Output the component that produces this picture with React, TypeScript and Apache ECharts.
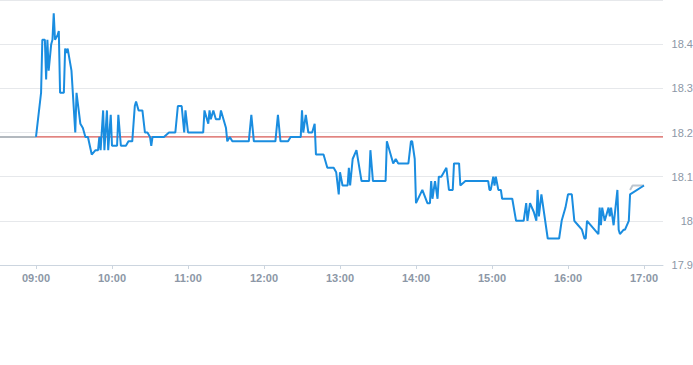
import React, { useEffect, useRef } from "react";
import * as echarts from "echarts";

const times = [
  "09:00","09:04","09:05","09:07","09:08","09:09","09:10","09:12","09:13","09:14","09:15","09:17","09:18","09:19","09:22","09:23","09:24","09:25","09:28","09:31","09:32","09:35","09:37","09:39","09:41","09:44","09:47","09:49","09:50","09:51","09:53","09:54","09:56","09:57","09:59",
  "10:00","10:04","10:05","10:07","10:11","10:13","10:16","10:18","10:19","10:21","10:24","10:26","10:28","10:30","10:31","10:32","10:41","10:45","10:50","10:52","10:55","10:57","10:58",
  "11:00","11:12","11:13","11:16","11:17","11:18","11:20","11:22","11:25","11:26","11:30","11:31","11:33","11:35","11:48","11:50","11:52",
  "12:09","12:11","12:13","12:19","12:21","12:29","12:30","12:31","12:33","12:35","12:38","12:40","12:41","12:47","12:50","12:55","12:57","12:59",
  "13:00","13:02","13:06","13:07","13:08","13:10","13:13","13:17","13:23","13:24","13:26","13:36","13:37","13:41","13:42","13:44","13:46","13:54","13:56","13:57","13:59",
  "14:00","14:05","14:09","14:11","14:12","14:13","14:15","14:17","14:18","14:20","14:24","14:26","14:29","14:30","14:34","14:35","14:39","14:57","14:58","14:59",
  "15:01","15:02","15:03","15:05","15:07","15:08","15:16","15:19","15:25","15:27","15:28","15:30","15:33","15:35","15:36","15:37","15:39","15:44","15:53","15:55","15:58",
  "16:00","16:03","16:05","16:08","16:11","16:13","16:14","16:15","16:24","16:25","16:26","16:27","16:29","16:32","16:33","16:34","16:36","16:39","16:40","16:41","16:44","16:45","16:48","16:49",
  "17:00",
];

const prices = [
  18.19,18.29,18.41,18.41,18.32,18.41,18.34,18.40,18.41,18.47,18.41,18.42,18.43,18.29,18.29,18.39,18.38,18.39,18.34,18.20,18.29,18.22,18.21,18.19,18.19,18.15,18.16,18.16,18.19,18.16,18.25,18.16,18.25,18.16,18.24,
  18.17,18.17,18.24,18.17,18.17,18.18,18.18,18.26,18.27,18.25,18.25,18.20,18.20,18.19,18.17,18.19,18.19,18.20,18.20,18.26,18.26,18.20,18.25,
  18.20,18.20,18.25,18.22,18.25,18.23,18.25,18.23,18.23,18.25,18.21,18.18,18.19,18.18,18.18,18.24,18.18,
  18.18,18.24,18.18,18.18,18.19,18.19,18.25,18.20,18.24,18.20,18.20,18.22,18.15,18.15,18.12,18.12,18.11,18.06,
  18.11,18.08,18.08,18.12,18.08,18.14,18.16,18.09,18.09,18.16,18.09,18.09,18.18,18.14,18.13,18.14,18.13,18.13,18.18,18.18,18.14,
  18.04,18.07,18.04,18.04,18.09,18.05,18.09,18.05,18.10,18.10,18.12,18.07,18.07,18.13,18.13,18.08,18.09,18.09,18.07,18.07,
  18.10,18.08,18.10,18.07,18.07,18.05,18.05,18.00,18.00,18.04,18.00,18.04,18.02,18.00,18.07,18.01,18.06,17.96,17.96,18.00,18.03,
  18.06,18.06,18.00,17.99,17.98,17.96,17.96,18.00,17.97,18.03,17.99,18.03,18.00,18.03,18.01,18.03,17.99,18.07,17.98,17.97,17.98,17.98,18.00,18.06,
  18.08,
];

const preTimes = ["08:30", "09:00"];
const prePrices = [18.19, 18.19];
const postTimes = ["16:49", "16:51", "17:00"];
const postPrices = [18.07, 18.08, 18.08];

const prevClose = 18.19;
const axisStart = "08:00";
const axisEnd = "17:15";
const sessionStart = "09:00";

const toMin = (s: string) => {
  const [h, m] = s.split(":").map(Number);
  return h * 60 + m;
};
const fmt = (v: number) => {
  const h = Math.floor(v / 60);
  const m = v % 60;
  return String(h).padStart(2, "0") + ":" + String(m).padStart(2, "0");
};

export default function App() {
  const ref = useRef<HTMLDivElement>(null);
  useEffect(() => {
    if (!ref.current) return;
    const chart = echarts.init(ref.current, undefined, { renderer: "svg" });
    const main = times.map((t, i) => [toMin(t), prices[i]]);
    const pre = preTimes.map((t, i) => [toMin(t), prePrices[i]]);
    const post = postTimes.map((t, i) => [toMin(t), postPrices[i]]);
    const ref18 = [sessionStart, axisEnd].map((t) => [toMin(t), prevClose]);
    chart.setOption({
      animation: false,
      grid: {
        left: 0,
        right: 30,
        top: 0,
        bottom: 100,
        containLabel: false,
        outerBoundsMode: "none",
      },
      xAxis: {
        type: "value",
        min: toMin(axisStart),
        max: toMin(axisEnd),
        interval: 60,
        axisLine: { lineStyle: { color: "#ccd5df", width: 1 } },
        axisTick: { show: true, length: 4, lineStyle: { color: "#ccd5df" } },
        splitLine: { show: false },
        axisLabel: {
          formatter: (v: number) => fmt(v),
          color: "#8c97a6",
          fontSize: 11,
          fontWeight: "bold",
          fontFamily: "Liberation Sans, Arial, sans-serif",
          margin: 7,
          showMinLabel: false,
          showMaxLabel: false,
        },
      },
      yAxis: {
        type: "value",
        position: "right",
        min: 17.9,
        max: 18.5,
        interval: 0.1,
        axisLine: { show: false },
        axisTick: { show: false },
        splitLine: { lineStyle: { color: "#e6e8eb", width: 1 } },
        axisLabel: {
          showMaxLabel: false,
          color: "#8c97a6",
          fontSize: 11,
          fontFamily: "Liberation Sans, Arial, sans-serif",
          align: "right",
          margin: 30,
        },
      },
      series: [
        {
          type: "line",
          data: ref18,
          symbol: "none",
          silent: true,
          lineStyle: { color: "#cc2f2a", width: 1 },
          z: 1,
        },
        {
          type: "line",
          data: pre,
          symbol: "none",
          lineStyle: { color: "#b3b9bf", width: 2 },
          z: 3,
        },
        {
          type: "line",
          data: post,
          symbol: "none",
          lineStyle: { color: "#bcc5cf", width: 2 },
          z: 2,
        },
        {
          type: "line",
          data: main,
          symbol: "none",
          lineStyle: { color: "#1a8de0", width: 2 },
          z: 4,
        },
      ],
    });
    return () => chart.dispose();
  }, []);
  return (
    <div
      ref={ref}
      style={{ position: "absolute", left: -40, top: 0, width: 733, height: 365 }}
    />
  );
}
